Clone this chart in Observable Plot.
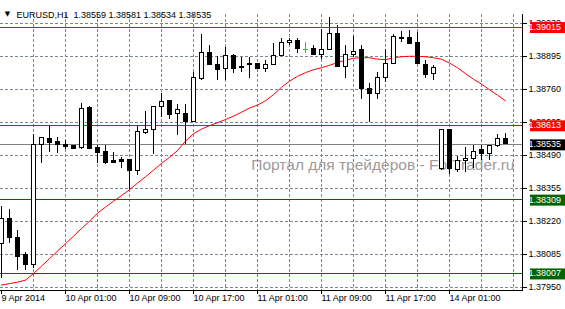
<!DOCTYPE html>
<html><head><meta charset="utf-8">
<script src="https://cdn.jsdelivr.net/npm/d3@7"></script>
<script src="https://cdn.jsdelivr.net/npm/@observablehq/plot@0.6"></script>
<style>
html,body{margin:0;padding:0;background:#fff;}
#chart{width:565px;height:309px;overflow:hidden;}
</style></head><body><div id="chart"></div>
<script>
const symbol = "EURUSD,H1";
const lastQuote = ["1.38559", "1.38581", "1.38534", "1.38535"];
const opens = [1.38126,1.38229,1.38151,1.38083,1.38044,1.38531,1.38556,1.38545,1.38531,1.38528,
  1.38519,1.38685,1.38520,1.38504,1.38466,1.38471,1.38471,1.38425,1.38580,1.38596,
  1.38690,1.38711,1.38658,1.38658,1.38625,1.38802,1.38911,1.38862,1.38843,1.38895,
  1.38846,1.38865,1.38866,1.38844,1.38862,1.38899,1.38952,1.38960,1.38924,1.38924,
  1.38903,1.38920,1.38989,1.38850,1.38903,1.38920,1.38760,1.38740,1.38805,1.38866,
  1.38969,1.38969,1.38949,1.38862,1.38823,1.38433,1.38594,1.38430,1.38466,1.38474,
  1.38512,1.38498,1.38528,1.38559];
const highs = [1.38280,1.38270,1.38184,1.38092,1.38576,1.38562,1.38613,1.38562,1.38550,1.38530,
  1.38703,1.38689,1.38531,1.38531,1.38504,1.38482,1.38473,1.38613,1.38670,1.38692,
  1.38744,1.38713,1.38699,1.38699,1.38830,1.38986,1.38941,1.38897,1.38933,1.38903,
  1.38892,1.38892,1.38868,1.38877,1.38948,1.38969,1.38970,1.38970,1.38952,1.38940,
  1.39005,1.39055,1.39022,1.38942,1.38978,1.38942,1.38785,1.38830,1.38924,1.38986,
  1.38999,1.39003,1.38992,1.38880,1.38858,1.38596,1.38596,1.38484,1.38523,1.38531,
  1.38531,1.38530,1.38574,1.38581];
const lows = [1.37988,1.38130,1.38018,1.38021,1.38028,1.38457,1.38504,1.38498,1.38515,1.38513,
  1.38515,1.38515,1.38457,1.38452,1.38458,1.38435,1.38351,1.38408,1.38577,1.38495,
  1.38645,1.38637,1.38570,1.38535,1.38623,1.38797,1.38857,1.38797,1.38797,1.38827,
  1.38830,1.38805,1.38843,1.38831,1.38860,1.38896,1.38940,1.38907,1.38907,1.38901,
  1.38883,1.38918,1.38848,1.38806,1.38891,1.38719,1.38626,1.38719,1.38790,1.38864,
  1.38953,1.38943,1.38863,1.38807,1.38798,1.38427,1.38414,1.38419,1.38419,1.38435,
  1.38471,1.38471,1.38523,1.38534];
const closes = [1.38229,1.38151,1.38075,1.38044,1.38531,1.38560,1.38542,1.38531,1.38525,1.38517,
  1.38682,1.38517,1.38501,1.38460,1.38460,1.38463,1.38427,1.38585,1.38596,1.38690,
  1.38708,1.38656,1.38675,1.38625,1.38805,1.38911,1.38862,1.38838,1.38895,1.38843,
  1.38854,1.38859,1.38845,1.38862,1.38899,1.38952,1.38960,1.38924,1.38924,1.38903,
  1.38920,1.38989,1.38850,1.38903,1.38915,1.38760,1.38740,1.38805,1.38866,1.38973,
  1.38965,1.38945,1.38865,1.38821,1.38846,1.38594,1.38433,1.38466,1.38474,1.38506,
  1.38496,1.38528,1.38556,1.38535];
const movingAverage = [1.37960,1.37966,1.37972,1.37980,1.38007,1.38037,1.38068,1.38099,1.38129,1.38160,
  1.38191,1.38221,1.38254,1.38279,1.38303,1.38326,1.38350,1.38377,1.38403,1.38430,
  1.38457,1.38483,1.38510,1.38549,1.38579,1.38598,1.38612,1.38624,1.38637,1.38651,
  1.38667,1.38684,1.38696,1.38714,1.38739,1.38769,1.38794,1.38814,1.38829,1.38841,
  1.38849,1.38859,1.38870,1.38880,1.38888,1.38890,1.38890,1.38884,1.38882,1.38890,
  1.38894,1.38896,1.38896,1.38894,1.38890,1.38884,1.38868,1.38849,1.38825,1.38802,
  1.38782,1.38759,1.38737,1.38714];
const yTicks = [1.37950,1.38085,1.38220,1.38355,1.38490,1.38625,1.38760,1.38895,1.39030];
const xTickIndex = [0,8,16,24,32,40,48,56];
const xTickLabels = ["9 Apr 2014","10 Apr 01:00","10 Apr 09:00","10 Apr 17:00","11 Apr 01:00","11 Apr 09:00","11 Apr 17:00","14 Apr 01:00"];
const levelPrices = [1.39015, 1.38613, 1.38535, 1.38309, 1.38007];
const levelKinds = ["resistance", "resistance", "bid", "support", "support"];
const watermark = "Портал для трейдеров - ForTrader.ru";

const W = 565, H = 309, MR = 43;
const boxColor = {resistance: "#ff0000", bid: "#000000", support: "#006400"};
const lineColor = {resistance: "#ff0000", bid: "#808080", support: "#006400"};
const gridColor = "#778899";
const dojiColor = "#22c822";
const crisp = "crispEdges";

const bars = opens.map((o, i) => ({i, o, h: highs[i], l: lows[i], c: closes[i]}));
const up = bars.filter(d => d.c > d.o);
const down = bars.filter(d => d.c < d.o);
const doji = bars.filter(d => d.c === d.o);
const levels = levelPrices.map((p, j) => ({p, kind: levelKinds[j]}));
const levelText = levels.map(d => d.p.toFixed(5));
const vGrid = d3.range(4, 65, 4);
const half = 0.25;

const plot = Plot.plot({
  width: W, height: H,
  marginLeft: 0, marginRight: MR, marginTop: 14, marginBottom: 19,
  style: {fontFamily: "'Liberation Sans', Arial, sans-serif", fontSize: "9px", color: "#000", background: "#fff", overflow: "visible"},
  color: {type: "identity"},
  x: {domain: [-0.125, 65.125], axis: "bottom", ticks: xTickIndex, tickFormat: () => "", tickSize: 4, line: true, label: null},
  y: {domain: [1.379377, 1.390668], axis: "right", ticks: yTicks, tickFormat: d => d.toFixed(5), tickSize: 4, tickPadding: 2, line: true, label: null},
  marks: [
    Plot.ruleY(yTicks, {stroke: gridColor, strokeDasharray: "3,2", shapeRendering: crisp}),
    Plot.ruleX(vGrid, {stroke: gridColor, strokeDasharray: "3,2", shapeRendering: crisp}),
    Plot.text([watermark], {frameAnchor: "right", dx: -8, dy: 13, textAnchor: "end", fill: "#a09a9a", fontSize: 15.5}),
    Plot.ruleY(levels, {y: "p", stroke: d => lineColor[d.kind], shapeRendering: crisp}),
    Plot.line(movingAverage, {x: (d, i) => i, y: d => d, stroke: "#ff0000", strokeWidth: 1}),
    Plot.ruleX(bars.filter(d => d.c !== d.o), {x: "i", y1: "l", y2: "h", stroke: "#000", shapeRendering: crisp}),
    Plot.ruleX(doji, {x: "i", y1: "l", y2: "h", stroke: dojiColor, shapeRendering: crisp}),
    Plot.rect(up, {x1: d => d.i - half, x2: d => d.i + half, y1: "o", y2: "c", fill: "#fff", stroke: "#000", shapeRendering: crisp}),
    Plot.rect(down, {x1: d => d.i - half, x2: d => d.i + half, y1: "o", y2: "c", fill: "#000", stroke: "#000", shapeRendering: crisp}),
    Plot.ruleY(doji, {y: "o", x1: d => d.i - 0.3125, x2: d => d.i + 0.3125, stroke: dojiColor, shapeRendering: crisp}),
    Plot.text(levels, {y: "p", text: (d, j) => levelText[j], frameAnchor: "right", dx: 6, textAnchor: "start", fill: "#fff"}),
    Plot.text(xTickIndex, {x: d => d, text: (d, i) => xTickLabels[i], frameAnchor: "bottom", dy: 10, textAnchor: "start", fill: "#000"}),
    Plot.text(["\u25BC"], {frameAnchor: "top-left", dx: 7, dy: -3, textAnchor: "middle", fontSize: 7, fill: "#000", fontFamily: "DejaVu Sans"}),
    Plot.text([symbol + "  " + lastQuote.join(" ")], {frameAnchor: "top-left", dx: 16, dy: -3, textAnchor: "start", fill: "#000"})
  ]
});
document.getElementById("chart").append(plot);

// coloured price boxes behind the level labels
const sr = plot.getBoundingClientRect();
plot.querySelectorAll("text").forEach(t => {
  const j = levelText.indexOf(t.textContent);
  if (j < 0) return;
  const r = t.getBoundingClientRect();
  const cy = r.top - sr.top + r.height / 2;
  const rect = document.createElementNS("http://www.w3.org/2000/svg", "rect");
  rect.setAttribute("x", W - MR + 1.5);
  rect.setAttribute("width", MR - 1.5);
  rect.setAttribute("y", cy - 5.5);
  rect.setAttribute("height", 11);
  rect.setAttribute("fill", boxColor[levels[j].kind]);
  t.parentNode.insertBefore(rect, t);
});
</script></body></html>
